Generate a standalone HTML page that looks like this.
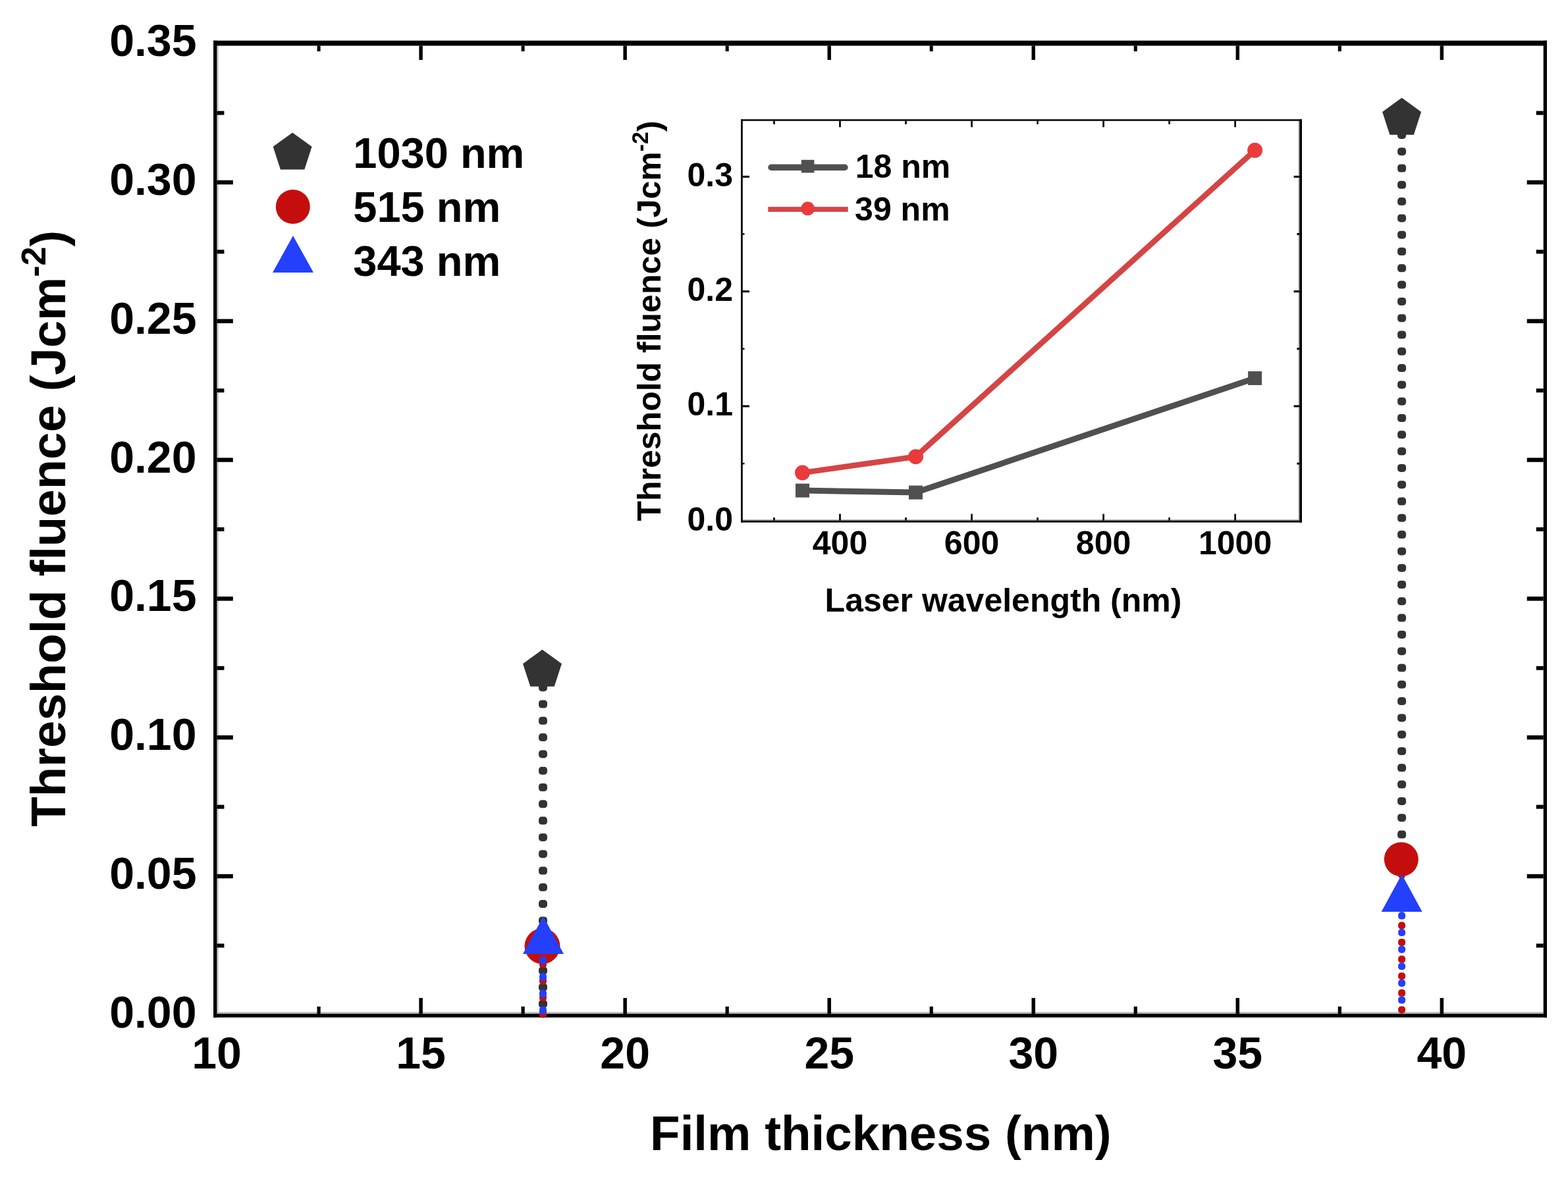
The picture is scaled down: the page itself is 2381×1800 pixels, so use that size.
<!DOCTYPE html>
<html><head><meta charset="utf-8"><title>Threshold fluence vs film thickness</title>
<style>html,body{margin:0;padding:0;background:#fff;overflow:hidden}svg{display:block}text{font-family:"Liberation Sans",Arial,Helvetica,sans-serif;font-weight:bold;fill:#000}</style>
</head><body>
<svg width="2381" height="1800" viewBox="0 0 2381 1800">
<rect x="0" y="0" width="2381" height="1800" fill="#fff"/>
<rect x="329.40" y="69.50" width="2.50" height="1470.40" fill="#cacaca"/>
<rect x="329.40" y="1537.20" width="2014.30" height="2.70" fill="#bababa"/>
<rect x="636.35" y="1515.90" width="5.50" height="24.00" fill="#000"/>
<rect x="636.40" y="69.50" width="5.40" height="21.50" fill="#000"/>
<rect x="946.40" y="1515.90" width="5.50" height="24.00" fill="#000"/>
<rect x="946.45" y="69.50" width="5.40" height="21.50" fill="#000"/>
<rect x="1256.45" y="1515.90" width="5.50" height="24.00" fill="#000"/>
<rect x="1256.50" y="69.50" width="5.40" height="21.50" fill="#000"/>
<rect x="1566.50" y="1515.90" width="5.50" height="24.00" fill="#000"/>
<rect x="1566.55" y="69.50" width="5.40" height="21.50" fill="#000"/>
<rect x="1876.55" y="1515.90" width="5.50" height="24.00" fill="#000"/>
<rect x="1876.60" y="69.50" width="5.40" height="21.50" fill="#000"/>
<rect x="2186.60" y="1515.90" width="5.50" height="24.00" fill="#000"/>
<rect x="2186.65" y="69.50" width="5.40" height="21.50" fill="#000"/>
<rect x="481.48" y="1528.90" width="5.20" height="11.00" fill="#000"/>
<rect x="481.58" y="69.50" width="5.00" height="8.50" fill="#000"/>
<rect x="791.52" y="1528.90" width="5.20" height="11.00" fill="#000"/>
<rect x="791.62" y="69.50" width="5.00" height="8.50" fill="#000"/>
<rect x="1101.58" y="1528.90" width="5.20" height="11.00" fill="#000"/>
<rect x="1101.67" y="69.50" width="5.00" height="8.50" fill="#000"/>
<rect x="1411.62" y="1528.90" width="5.20" height="11.00" fill="#000"/>
<rect x="1411.72" y="69.50" width="5.00" height="8.50" fill="#000"/>
<rect x="1721.67" y="1528.90" width="5.20" height="11.00" fill="#000"/>
<rect x="1721.77" y="69.50" width="5.00" height="8.50" fill="#000"/>
<rect x="2031.72" y="1528.90" width="5.20" height="11.00" fill="#000"/>
<rect x="2031.82" y="69.50" width="5.00" height="8.50" fill="#000"/>
<rect x="329.40" y="1327.80" width="24.40" height="6.40" fill="#000"/>
<rect x="2318.70" y="1327.80" width="25.00" height="6.40" fill="#000"/>
<rect x="329.40" y="1117.00" width="24.40" height="6.40" fill="#000"/>
<rect x="2318.70" y="1117.00" width="25.00" height="6.40" fill="#000"/>
<rect x="329.40" y="906.20" width="24.40" height="6.40" fill="#000"/>
<rect x="2318.70" y="906.20" width="25.00" height="6.40" fill="#000"/>
<rect x="329.40" y="695.40" width="24.40" height="6.40" fill="#000"/>
<rect x="2318.70" y="695.40" width="25.00" height="6.40" fill="#000"/>
<rect x="329.40" y="484.60" width="24.40" height="6.40" fill="#000"/>
<rect x="2318.70" y="484.60" width="25.00" height="6.40" fill="#000"/>
<rect x="329.40" y="273.80" width="24.40" height="6.40" fill="#000"/>
<rect x="2318.70" y="273.80" width="25.00" height="6.40" fill="#000"/>
<rect x="329.40" y="1433.40" width="11.00" height="6.00" fill="#000"/>
<rect x="2332.70" y="1433.40" width="11.00" height="6.00" fill="#000"/>
<rect x="329.40" y="1222.60" width="11.00" height="6.00" fill="#000"/>
<rect x="2332.70" y="1222.60" width="11.00" height="6.00" fill="#000"/>
<rect x="329.40" y="1011.80" width="11.00" height="6.00" fill="#000"/>
<rect x="2332.70" y="1011.80" width="11.00" height="6.00" fill="#000"/>
<rect x="329.40" y="801.00" width="11.00" height="6.00" fill="#000"/>
<rect x="2332.70" y="801.00" width="11.00" height="6.00" fill="#000"/>
<rect x="329.40" y="590.20" width="11.00" height="6.00" fill="#000"/>
<rect x="2332.70" y="590.20" width="11.00" height="6.00" fill="#000"/>
<rect x="329.40" y="379.40" width="11.00" height="6.00" fill="#000"/>
<rect x="2332.70" y="379.40" width="11.00" height="6.00" fill="#000"/>
<rect x="329.40" y="168.60" width="11.00" height="6.00" fill="#000"/>
<rect x="2332.70" y="168.60" width="11.00" height="6.00" fill="#000"/>
<rect x="324.00" y="61.70" width="5.40" height="1483.80" fill="#000"/>
<rect x="2343.70" y="61.70" width="5.30" height="1483.80" fill="#000"/>
<rect x="324.00" y="61.70" width="2025.00" height="7.80" fill="#000"/>
<rect x="324.00" y="1539.90" width="2025.00" height="5.60" fill="#000"/>
<text transform="translate(298.50,1560.80) scale(1,1.01)" font-size="68" text-anchor="end">0.00</text>
<text transform="translate(298.50,1350.00) scale(1,1.01)" font-size="68" text-anchor="end">0.05</text>
<text transform="translate(298.50,1139.20) scale(1,1.01)" font-size="68" text-anchor="end">0.10</text>
<text transform="translate(298.50,928.40) scale(1,1.01)" font-size="68" text-anchor="end">0.15</text>
<text transform="translate(298.50,717.60) scale(1,1.01)" font-size="68" text-anchor="end">0.20</text>
<text transform="translate(298.50,506.80) scale(1,1.01)" font-size="68" text-anchor="end">0.25</text>
<text transform="translate(298.50,296.00) scale(1,1.01)" font-size="68" text-anchor="end">0.30</text>
<text transform="translate(298.50,85.20) scale(1,1.01)" font-size="68" text-anchor="end">0.35</text>
<text transform="translate(329.05,1623.30) scale(1,1.01)" font-size="68" text-anchor="middle">10</text>
<text transform="translate(639.10,1623.30) scale(1,1.01)" font-size="68" text-anchor="middle">15</text>
<text transform="translate(949.15,1623.30) scale(1,1.01)" font-size="68" text-anchor="middle">20</text>
<text transform="translate(1259.20,1623.30) scale(1,1.01)" font-size="68" text-anchor="middle">25</text>
<text transform="translate(1569.25,1623.30) scale(1,1.01)" font-size="68" text-anchor="middle">30</text>
<text transform="translate(1879.30,1623.30) scale(1,1.01)" font-size="68" text-anchor="middle">35</text>
<text transform="translate(2189.35,1623.30) scale(1,1.01)" font-size="68" text-anchor="middle">40</text>
<text transform="translate(1337.30,1746.50) scale(1,1.0)" font-size="74.6" text-anchor="middle">Film thickness (nm)</text>
<text transform="translate(99,802.8) rotate(-90)" font-size="74.4" text-anchor="middle">Threshold fluence (Jcm<tspan font-size="52" dy="-30.3">-2</tspan><tspan dy="30.3">)</tspan></text>
<polygon points="444.10,201.40 473.58,222.82 462.32,257.48 425.88,257.48 414.62,222.82" fill="#333333"/>
<circle cx="444.80" cy="314.00" r="26.00" fill="#c40e0e"/>
<polygon points="445.00,358.00 476.00,414.00 414.00,414.00" fill="#2440fa"/>
<text transform="translate(536.30,254.60) scale(1,1.01)" font-size="65" text-anchor="start">1030 nm</text>
<text transform="translate(536.30,337.00) scale(1,1.01)" font-size="65" text-anchor="start">515 nm</text>
<text transform="translate(536.30,418.80) scale(1,1.01)" font-size="65" text-anchor="start">343 nm</text>
<g fill="#333333"><rect x="818.00" y="1038.20" width="13" height="12" rx="4.6"/><rect x="818.00" y="1063.50" width="13" height="12" rx="4.6"/><rect x="818.00" y="1088.80" width="13" height="12" rx="4.6"/><rect x="818.00" y="1114.10" width="13" height="12" rx="4.6"/><rect x="818.00" y="1139.40" width="13" height="12" rx="4.6"/><rect x="818.00" y="1164.70" width="13" height="12" rx="4.6"/><rect x="818.00" y="1190.00" width="13" height="12" rx="4.6"/><rect x="818.00" y="1215.30" width="13" height="12" rx="4.6"/><rect x="818.00" y="1240.60" width="13" height="12" rx="4.6"/><rect x="818.00" y="1265.90" width="13" height="12" rx="4.6"/><rect x="818.00" y="1291.20" width="13" height="12" rx="4.6"/><rect x="818.00" y="1316.50" width="13" height="12" rx="4.6"/><rect x="818.00" y="1341.80" width="13" height="12" rx="4.6"/><rect x="818.00" y="1367.10" width="13" height="12" rx="4.6"/><rect x="818.00" y="1392.40" width="13" height="12" rx="4.6"/><rect x="818.00" y="1417.70" width="13" height="12" rx="4.6"/><rect x="818.00" y="1443.00" width="13" height="12" rx="4.6"/><rect x="818.00" y="1468.30" width="13" height="12" rx="4.6"/><rect x="818.00" y="1493.60" width="13" height="12" rx="4.6"/><rect x="818.00" y="1518.90" width="13" height="12" rx="4.6"/></g>
<g fill="#333333"><rect x="2122.10" y="198.90" width="13" height="12" rx="4.6"/><rect x="2122.10" y="224.20" width="13" height="12" rx="4.6"/><rect x="2122.10" y="249.50" width="13" height="12" rx="4.6"/><rect x="2122.10" y="274.80" width="13" height="12" rx="4.6"/><rect x="2122.10" y="300.10" width="13" height="12" rx="4.6"/><rect x="2122.10" y="325.40" width="13" height="12" rx="4.6"/><rect x="2122.10" y="350.70" width="13" height="12" rx="4.6"/><rect x="2122.10" y="376.00" width="13" height="12" rx="4.6"/><rect x="2122.10" y="401.30" width="13" height="12" rx="4.6"/><rect x="2122.10" y="426.60" width="13" height="12" rx="4.6"/><rect x="2122.10" y="451.90" width="13" height="12" rx="4.6"/><rect x="2122.10" y="477.20" width="13" height="12" rx="4.6"/><rect x="2122.10" y="502.50" width="13" height="12" rx="4.6"/><rect x="2122.10" y="527.80" width="13" height="12" rx="4.6"/><rect x="2122.10" y="553.10" width="13" height="12" rx="4.6"/><rect x="2122.10" y="578.40" width="13" height="12" rx="4.6"/><rect x="2122.10" y="603.70" width="13" height="12" rx="4.6"/><rect x="2122.10" y="629.00" width="13" height="12" rx="4.6"/><rect x="2122.10" y="654.30" width="13" height="12" rx="4.6"/><rect x="2122.10" y="679.60" width="13" height="12" rx="4.6"/><rect x="2122.10" y="704.90" width="13" height="12" rx="4.6"/><rect x="2122.10" y="730.20" width="13" height="12" rx="4.6"/><rect x="2122.10" y="755.50" width="13" height="12" rx="4.6"/><rect x="2122.10" y="780.80" width="13" height="12" rx="4.6"/><rect x="2122.10" y="806.10" width="13" height="12" rx="4.6"/><rect x="2122.10" y="831.40" width="13" height="12" rx="4.6"/><rect x="2122.10" y="856.70" width="13" height="12" rx="4.6"/><rect x="2122.10" y="882.00" width="13" height="12" rx="4.6"/><rect x="2122.10" y="907.30" width="13" height="12" rx="4.6"/><rect x="2122.10" y="932.60" width="13" height="12" rx="4.6"/><rect x="2122.10" y="957.90" width="13" height="12" rx="4.6"/><rect x="2122.10" y="983.20" width="13" height="12" rx="4.6"/><rect x="2122.10" y="1008.50" width="13" height="12" rx="4.6"/><rect x="2122.10" y="1033.80" width="13" height="12" rx="4.6"/><rect x="2122.10" y="1059.10" width="13" height="12" rx="4.6"/><rect x="2122.10" y="1084.40" width="13" height="12" rx="4.6"/><rect x="2122.10" y="1109.70" width="13" height="12" rx="4.6"/><rect x="2122.10" y="1135.00" width="13" height="12" rx="4.6"/><rect x="2122.10" y="1160.30" width="13" height="12" rx="4.6"/><rect x="2122.10" y="1185.60" width="13" height="12" rx="4.6"/><rect x="2122.10" y="1210.90" width="13" height="12" rx="4.6"/><rect x="2122.10" y="1236.20" width="13" height="12" rx="4.6"/><rect x="2122.10" y="1261.50" width="13" height="12" rx="4.6"/><rect x="2122.10" y="1286.80" width="13" height="12" rx="4.6"/></g>
<polygon points="823.50,986.75 852.98,1008.17 841.72,1042.83 805.28,1042.83 794.02,1008.17" fill="#333333"/>
<polygon points="2128.60,148.61 2158.08,170.03 2146.82,204.69 2110.38,204.69 2099.12,170.03" fill="#333333"/>
<g fill="#c40e0e"><rect x="819.00" y="1459.20" width="11" height="11" rx="4.6"/><rect x="819.00" y="1484.50" width="11" height="11" rx="4.6"/><rect x="819.00" y="1509.80" width="11" height="11" rx="4.6"/><rect x="819.00" y="1535.10" width="11" height="11" rx="4.6"/></g>
<g fill="#c40e0e"><rect x="2123.10" y="1323.44" width="11" height="11" rx="4.6"/><rect x="2123.10" y="1349.06" width="11" height="11" rx="4.6"/><rect x="2123.10" y="1374.68" width="11" height="11" rx="4.6"/><rect x="2123.10" y="1400.30" width="11" height="11" rx="4.6"/><rect x="2123.10" y="1425.92" width="11" height="11" rx="4.6"/><rect x="2123.10" y="1451.54" width="11" height="11" rx="4.6"/><rect x="2123.10" y="1477.16" width="11" height="11" rx="4.6"/><rect x="2123.10" y="1502.78" width="11" height="11" rx="4.6"/><rect x="2123.10" y="1528.40" width="11" height="11" rx="4.6"/></g>
<circle cx="823.50" cy="1437.24" r="27.00" fill="#c40e0e"/>
<circle cx="2127.80" cy="1305.28" r="26.00" fill="#c40e0e"/>
<g fill="#2440fa"><rect x="819.00" y="1452.90" width="11" height="12" rx="4.6"/><rect x="819.00" y="1478.20" width="11" height="12" rx="4.6"/><rect x="819.00" y="1503.50" width="11" height="12" rx="4.6"/><rect x="819.00" y="1528.80" width="11" height="12" rx="4.6"/></g>
<g fill="#2440fa"><rect x="2123.10" y="1385.50" width="11" height="11" rx="4.6"/><rect x="2123.10" y="1411.10" width="11" height="11" rx="4.6"/><rect x="2123.10" y="1436.70" width="11" height="11" rx="4.6"/><rect x="2123.10" y="1462.30" width="11" height="11" rx="4.6"/><rect x="2123.10" y="1487.90" width="11" height="11" rx="4.6"/><rect x="2123.10" y="1513.50" width="11" height="11" rx="4.6"/></g>
<polygon points="825.00,1392.08 856.00,1449.08 794.00,1449.08" fill="#2440fa"/>
<polygon points="2128.60,1327.99 2159.60,1384.99 2097.60,1384.99" fill="#2440fa"/>
<rect x="1127.80" y="788.80" width="845.40" height="1.80" fill="#bdbdbd"/>
<rect x="1971.30" y="183.70" width="1.90" height="606.90" fill="#bdbdbd"/>
<rect x="1274.15" y="780.60" width="2.70" height="10.00" fill="#000"/>
<rect x="1274.15" y="183.70" width="2.70" height="9.50" fill="#000"/>
<rect x="1474.19" y="780.60" width="2.70" height="10.00" fill="#000"/>
<rect x="1474.19" y="183.70" width="2.70" height="9.50" fill="#000"/>
<rect x="1674.23" y="780.60" width="2.70" height="10.00" fill="#000"/>
<rect x="1674.23" y="183.70" width="2.70" height="9.50" fill="#000"/>
<rect x="1874.27" y="780.60" width="2.70" height="10.00" fill="#000"/>
<rect x="1874.27" y="183.70" width="2.70" height="9.50" fill="#000"/>
<rect x="1174.13" y="786.10" width="2.70" height="4.50" fill="#000"/>
<rect x="1174.13" y="183.70" width="2.70" height="5.00" fill="#000"/>
<rect x="1374.17" y="786.10" width="2.70" height="4.50" fill="#000"/>
<rect x="1374.17" y="183.70" width="2.70" height="5.00" fill="#000"/>
<rect x="1574.21" y="786.10" width="2.70" height="4.50" fill="#000"/>
<rect x="1574.21" y="183.70" width="2.70" height="5.00" fill="#000"/>
<rect x="1774.25" y="786.10" width="2.70" height="4.50" fill="#000"/>
<rect x="1774.25" y="183.70" width="2.70" height="5.00" fill="#000"/>
<rect x="1127.80" y="615.50" width="10.20" height="3.00" fill="#000"/>
<rect x="1964.60" y="615.50" width="8.60" height="3.00" fill="#000"/>
<rect x="1127.80" y="441.20" width="10.20" height="3.00" fill="#000"/>
<rect x="1964.60" y="441.20" width="8.60" height="3.00" fill="#000"/>
<rect x="1127.80" y="266.90" width="10.20" height="3.00" fill="#000"/>
<rect x="1964.60" y="266.90" width="8.60" height="3.00" fill="#000"/>
<rect x="1127.80" y="702.90" width="2.70" height="2.50" fill="#000"/>
<rect x="1969.40" y="702.65" width="3.80" height="3.00" fill="#000"/>
<rect x="1127.80" y="528.60" width="2.70" height="2.50" fill="#000"/>
<rect x="1969.40" y="528.35" width="3.80" height="3.00" fill="#000"/>
<rect x="1127.80" y="354.30" width="2.70" height="2.50" fill="#000"/>
<rect x="1969.40" y="354.05" width="3.80" height="3.00" fill="#000"/>
<rect x="1125.00" y="181.20" width="2.80" height="612.40" fill="#000"/>
<rect x="1973.20" y="181.20" width="3.80" height="612.40" fill="#000"/>
<rect x="1125.00" y="181.20" width="852.00" height="2.50" fill="#000"/>
<rect x="1125.00" y="790.60" width="852.00" height="3.00" fill="#000"/>
<text transform="translate(1113.00,805.70) scale(1,0.98)" font-size="50" text-anchor="end">0.0</text>
<text transform="translate(1113.00,631.40) scale(1,0.98)" font-size="50" text-anchor="end">0.1</text>
<text transform="translate(1113.00,457.10) scale(1,0.98)" font-size="50" text-anchor="end">0.2</text>
<text transform="translate(1113.00,282.80) scale(1,0.98)" font-size="50" text-anchor="end">0.3</text>
<text transform="translate(1275.50,842.20) scale(1,0.98)" font-size="50" text-anchor="middle">400</text>
<text transform="translate(1475.54,842.20) scale(1,0.98)" font-size="50" text-anchor="middle">600</text>
<text transform="translate(1675.58,842.20) scale(1,0.98)" font-size="50" text-anchor="middle">800</text>
<text transform="translate(1875.62,842.20) scale(1,0.98)" font-size="50" text-anchor="middle">1000</text>
<text transform="translate(1523.50,929.30) scale(1,1.01)" font-size="50" text-anchor="middle">Laser wavelength (nm)</text>
<text transform="translate(1002.6,487.5) rotate(-90) scale(1,1.01)" font-size="50" text-anchor="middle">Threshold fluence (Jcm<tspan font-size="34" dy="-18.5">-2</tspan><tspan dy="18.5">)</tspan></text>
<line x1="1171" y1="254.3" x2="1283" y2="254.3" stroke="#505050" stroke-width="9.4" stroke-linecap="round"/>
<rect x="1216.80" y="242.80" width="19.60" height="19.60" fill="#505050"/>
<rect x="1166.30" y="314.20" width="121.40" height="7.60" fill="#d64444"/>
<circle cx="1226.60" cy="316.80" r="10.50" fill="#e93b3b"/>
<text transform="translate(1298.70,270.20) scale(1,0.98)" font-size="50" text-anchor="start">18 nm</text>
<text transform="translate(1298.10,335.30) scale(1,0.98)" font-size="50" text-anchor="start">39 nm</text>
<polyline points="1218.49,745.11 1390.52,748.07 1905.63,574.47" fill="none" stroke="#505050" stroke-width="9" stroke-linejoin="miter"/>
<rect x="1207.99" y="734.61" width="21.00" height="21.00" fill="#505050"/>
<rect x="1380.02" y="737.57" width="21.00" height="21.00" fill="#505050"/>
<rect x="1895.13" y="563.97" width="21.00" height="21.00" fill="#505050"/>
<polyline points="1218.49,718.09 1390.52,693.69 1905.63,228.31" fill="none" stroke="#d64444" stroke-width="8.5" stroke-linejoin="miter"/>
<circle cx="1218.49" cy="718.09" r="11.50" fill="#e93b3b"/>
<circle cx="1390.52" cy="693.69" r="11.50" fill="#e93b3b"/>
<circle cx="1905.63" cy="228.31" r="11.50" fill="#e93b3b"/>
</svg>
</body></html>
